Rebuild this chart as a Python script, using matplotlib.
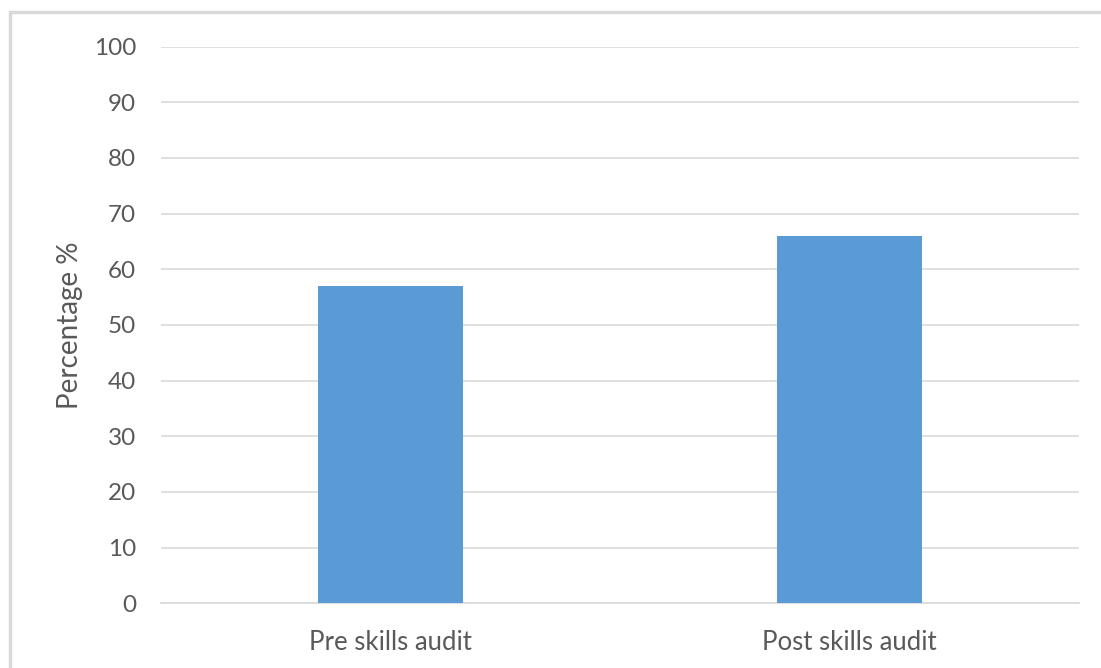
import matplotlib
matplotlib.use("Agg")
import matplotlib.pyplot as plt
import matplotlib.patches as mpatches

# datos del grafico
categorias = ["Pre skills audit", "Post skills audit"]
porcentajes = [57, 66]
ticks_y = [0, 10, 20, 30, 40, 50, 60, 70, 80, 90, 100]

plt.rcParams['font.family'] = ['Lato', 'DejaVu Sans']

fig = plt.figure(figsize=(11.01, 6.68), dpi=100)
ax = fig.add_axes([161/1101, 1-603.3/668, (1079-161)/1101, 556.7/668])

# marco gris claro alrededor del area del grafico
marco = mpatches.Rectangle((9.5/1101, -0.1), 1.2, 1.1-12/668, transform=fig.transFigure,
                           fill=False, edgecolor="#d9d9d9", linewidth=2.5)
fig.patches.append(marco)

x = list(range(len(categorias)))
ax.bar(x, porcentajes, width=0.315, color="#5b9bd5", zorder=3)

ax.set_xlim(-0.5, len(categorias)-0.5)
ax.set_ylim(0, 100)
ax.set_yticks(ticks_y)
ax.set_xticks(x)
ax.set_xticklabels(categorias)

ax.grid(axis="y", color="#d9d9d9", linewidth=1.2, zorder=0)
for lado in ["top", "right", "left"]:
    ax.spines[lado].set_visible(False)
ax.spines["bottom"].set_color("#d9d9d9")
ax.spines["bottom"].set_linewidth(1.2)

ax.tick_params(axis="both", length=0, labelcolor="#595959")
ax.tick_params(axis="y", pad=18, labelsize=17.5)
ax.tick_params(axis="x", pad=19, labelsize=18.5)

ax.set_ylabel("Percentage %", fontsize=20, color="#595959", labelpad=8)

fig.savefig("out.png", dpi=100)
